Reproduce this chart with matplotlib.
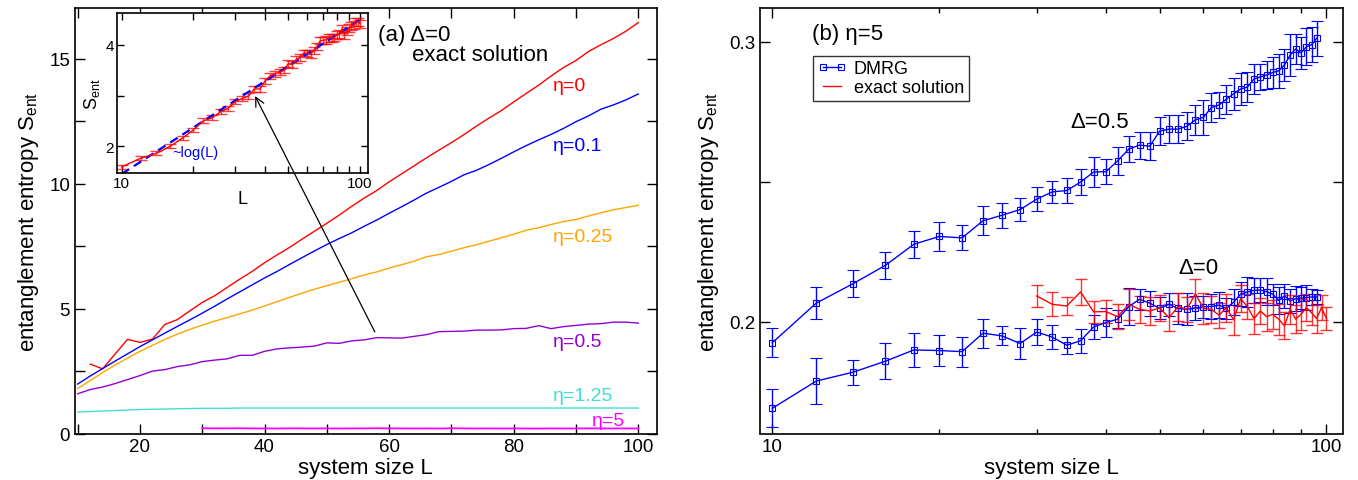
import matplotlib
matplotlib.use("Agg")
import matplotlib.pyplot as plt
from matplotlib.ticker import MultipleLocator, FixedLocator, NullFormatter, LogLocator
from matplotlib.lines import Line2D

plt.rcParams['font.family'] = ['Liberation Sans', 'DejaVu Sans']
plt.rcParams['mathtext.default'] = 'regular'

# ---- panel (a): Delta=0, exact solution, S_ent vs L for several eta
L_all = list(range(10, 101, 2))
L_eta0 = list(range(12, 101, 2))
S_eta0 = [2.78, 2.59, 3.18, 3.77, 3.65, 3.78, 4.37, 4.56, 4.91, 5.25, 5.52, 5.85,
          6.18, 6.49, 6.84, 7.15, 7.45, 7.78, 8.10, 8.42, 8.75, 9.10, 9.43, 9.73,
          10.08, 10.40, 10.72, 11.04, 11.35, 11.65, 11.97, 12.31, 12.63, 12.93,
          13.28, 13.62, 13.95, 14.32, 14.66, 14.94, 15.30, 15.57, 15.82, 16.11, 16.46]
S_eta01 = [1.98, 2.30, 2.60, 2.90, 3.19, 3.48, 3.75, 4.02, 4.29, 4.55, 4.82, 5.10,
           5.39, 5.67, 5.95, 6.23, 6.49, 6.77, 7.04, 7.31, 7.57, 7.81, 8.04, 8.30,
           8.55, 8.82, 9.08, 9.35, 9.63, 9.86, 10.10, 10.36, 10.54, 10.77, 11.02,
           11.28, 11.53, 11.76, 11.98, 12.22, 12.49, 12.72, 12.99, 13.16, 13.36, 13.60]
S_eta025 = [1.80, 2.12, 2.44, 2.74, 3.02, 3.29, 3.53, 3.77, 3.98, 4.17, 4.34, 4.50,
            4.64, 4.79, 4.94, 5.11, 5.28, 5.45, 5.62, 5.78, 5.92, 6.06, 6.20, 6.35,
            6.47, 6.63, 6.76, 6.90, 7.08, 7.17, 7.30, 7.44, 7.56, 7.70, 7.84, 7.98,
            8.14, 8.24, 8.37, 8.49, 8.57, 8.71, 8.84, 8.96, 9.05, 9.14]
S_eta05 = [1.59, 1.76, 1.86, 2.00, 2.16, 2.32, 2.50, 2.56, 2.68, 2.75, 2.88, 2.94,
           2.99, 3.13, 3.13, 3.29, 3.39, 3.43, 3.46, 3.50, 3.63, 3.61, 3.71, 3.75,
           3.84, 3.83, 3.82, 3.89, 3.96, 4.08, 4.09, 4.10, 4.14, 4.14, 4.15, 4.20,
           4.21, 4.32, 4.20, 4.28, 4.33, 4.38, 4.40, 4.46, 4.46, 4.42]
S_eta125 = [0.86, 0.88, 0.90, 0.92, 0.94, 0.96, 0.97, 0.98, 0.99, 1.00, 1.01, 1.01,
            1.01, 1.02, 1.02, 1.02, 1.02, 1.02, 1.02, 1.02, 1.02, 1.02, 1.02, 1.02,
            1.02, 1.02, 1.02, 1.02, 1.02, 1.02, 1.02, 1.02, 1.02, 1.02, 1.02, 1.02,
            1.02, 1.02, 1.02, 1.02, 1.02, 1.02, 1.02, 1.02, 1.02, 1.02]
# inset error bars for eta=0.5
err_eta05 = [0.04, 0.04, 0.04, 0.045, 0.045, 0.045, 0.05, 0.05, 0.05, 0.05, 0.05, 0.055,
             0.055, 0.055, 0.055, 0.06, 0.06, 0.06, 0.06, 0.06, 0.065, 0.065, 0.065, 0.065,
             0.065, 0.07, 0.07, 0.07, 0.07, 0.07, 0.07, 0.075, 0.075, 0.075, 0.075, 0.075,
             0.075, 0.08, 0.08, 0.08, 0.08, 0.08, 0.08, 0.08, 0.08, 0.08]
L_fit = [10, 100]
S_fit = [1.45, 4.50]

# ---- panel (b): eta=5
L_dmrg = list(range(10, 97, 2))
S_d05 = [0.1926, 0.2067, 0.2137, 0.2202, 0.2277, 0.2305, 0.2300, 0.2361, 0.2381, 0.2401,
         0.2438, 0.2464, 0.2469, 0.2499, 0.2535, 0.2536, 0.2575, 0.2617, 0.2631, 0.2627,
         0.2681, 0.2688, 0.2688, 0.2698, 0.2721, 0.2730, 0.2765, 0.2774, 0.2795, 0.2814,
         0.2831, 0.2838, 0.2867, 0.2874, 0.2881, 0.2890, 0.2896, 0.2917, 0.2952, 0.2974,
         0.2960, 0.2982, 0.2989, 0.3012]
E_d05 = [0.0051, 0.0058, 0.0048, 0.0048, 0.0048, 0.0052, 0.0045, 0.0051, 0.0045, 0.0041,
         0.0042, 0.0040, 0.0046, 0.0046, 0.0052, 0.0045, 0.0049, 0.0048, 0.0048, 0.0050,
         0.0049, 0.0051, 0.0050, 0.0050, 0.0054, 0.0062, 0.0052, 0.0048, 0.0052, 0.0057,
         0.0057, 0.0055, 0.0055, 0.0046, 0.0049, 0.0055, 0.0060, 0.0058, 0.0074, 0.0052,
         0.0057, 0.0067, 0.0063, 0.0063]
S_d0 = [0.1692, 0.1789, 0.1821, 0.1860, 0.1900, 0.1898, 0.1894, 0.1960, 0.1950, 0.1923,
        0.1964, 0.1946, 0.1917, 0.1933, 0.1982, 0.1998, 0.2010, 0.2055, 0.2081, 0.2067,
        0.2049, 0.2063, 0.2048, 0.2045, 0.2050, 0.2054, 0.2055, 0.2060, 0.2048, 0.2071,
        0.2099, 0.2107, 0.2113, 0.2114, 0.2108, 0.2099, 0.2077, 0.2093, 0.2075, 0.2083,
        0.2085, 0.2087, 0.2089, 0.2089]
E_d0 = [0.0067, 0.0083, 0.0045, 0.0065, 0.0060, 0.0054, 0.0053, 0.0052, 0.0034, 0.0054,
        0.0046, 0.0042, 0.0031, 0.0043, 0.0043, 0.0051, 0.0033, 0.0065, 0.0038, 0.0045,
        0.0040, 0.0042, 0.0057, 0.0057, 0.0042, 0.0039, 0.0043, 0.0046, 0.0036, 0.0046,
        0.0043, 0.0053, 0.0045, 0.0044, 0.0048, 0.0038, 0.0048, 0.0043, 0.0042, 0.0044,
        0.0040, 0.0046, 0.0030, 0.0025]
L_exact = list(range(30, 101, 2))
S_exact = [0.2093, 0.2063, 0.2057, 0.2107, 0.2036, 0.2037, 0.2019, 0.2063, 0.2045, 0.2039,
           0.2050, 0.2015, 0.2055, 0.2045, 0.2101, 0.2048, 0.2045, 0.2024, 0.2051, 0.2007,
           0.2083, 0.2055, 0.2012, 0.2039, 0.2019, 0.2027, 0.2010, 0.1986, 0.2045, 0.2010,
           0.2027, 0.2051, 0.2033, 0.2012, 0.2051, 0.2012]
E_exact = [0.0039, 0.0043, 0.0033, 0.0045, 0.0040, 0.0042, 0.0045, 0.0055, 0.0048, 0.0050,
           0.0045, 0.0048, 0.0050, 0.0045, 0.0052, 0.0055, 0.0048, 0.0045, 0.0050, 0.0052,
           0.0048, 0.0045, 0.0055, 0.0048, 0.0050, 0.0052, 0.0055, 0.0048, 0.0052, 0.0050,
           0.0055, 0.0048, 0.0045, 0.0050, 0.0045, 0.0040]

RED, BLUE, ORANGE, VIOLET, TURQ, MAGENTA = '#ff0000', '#0000ff', '#ffa500', '#9400d3', '#40e0d0', '#ff00ff'

fig = plt.figure(figsize=(13.58, 4.81), dpi=100)
ax = fig.add_axes([75 / 1358, 46.5 / 481, 581.7 / 1358, 425.2 / 481])
ax2 = fig.add_axes([760 / 1358, 46.5 / 481, 582.7 / 1358, 425.2 / 481])
axin = fig.add_axes([117 / 1358, 307 / 481, 251 / 1358, 160 / 481])

lw = 1.0
ax.plot(L_eta0, S_eta0, color=RED, lw=lw)
ax.plot(L_all, S_eta01, color=BLUE, lw=lw)
ax.plot(L_all, S_eta025, color=ORANGE, lw=lw)
ax.plot(L_all, S_eta05, color=VIOLET, lw=lw)
ax.plot(L_all, S_eta125, color=TURQ, lw=lw)
ax.plot(L_exact, S_exact, color=MAGENTA, lw=lw + 0.3)

ax.set_xlim(9.57, 102.95)
ax.set_ylim(0, 17.03)
ax.xaxis.set_major_locator(FixedLocator([20, 40, 60, 80, 100]))
ax.xaxis.set_minor_locator(MultipleLocator(10))
ax.yaxis.set_major_locator(MultipleLocator(5))
ax.yaxis.set_minor_locator(MultipleLocator(2.5))
ax.tick_params(which='both', direction='in', top=True, right=True, length=7, width=1,
               labelsize=13.5)
ax.set_xlabel('system size L', fontsize=16, labelpad=1)
ax.set_ylabel('entanglement entropy S$_{ent}$', fontsize=16, labelpad=6)

ax.text(58.2, 16.0, '(a) \u0394=0', fontsize=16, va='center')
ax.text(63.7, 15.16, 'exact solution', fontsize=16, va='center')
ax.text(86.3, 13.92, '\u03b7=0', color=RED, fontsize=14, va='center')
ax.text(86.3, 11.52, '\u03b7=0.1', color=BLUE, fontsize=14, va='center')
ax.text(86.3, 7.91, '\u03b7=0.25', color=ORANGE, fontsize=14, va='center')
ax.text(86.3, 3.67, '\u03b7=0.5', color=VIOLET, fontsize=14, va='center')
ax.text(86.3, 1.54, '\u03b7=1.25', color=TURQ, fontsize=14, va='center')
ax.text(92.6, 0.54, '\u03b7=5', color=MAGENTA, fontsize=14, va='center')

# inset: eta=0.5 on log scale
axin.errorbar(L_all, S_eta05, yerr=err_eta05, color=RED, lw=1, elinewidth=1,
              capsize=4.5, capthick=1, ecolor=(1, 0, 0, 0.75))
axin.plot(L_fit, S_fit, color=BLUE, lw=1.6, ls=(0, (4, 2.5)))
axin.set_xscale('log')
axin.set_xlim(9.56, 108)
axin.set_ylim(1.47, 4.63)
axin.xaxis.set_major_locator(FixedLocator([10, 100]))
axin.set_xticklabels(['10', '100'])
axin.xaxis.set_minor_locator(LogLocator(base=10, subs=range(2, 10)))
axin.xaxis.set_minor_formatter(NullFormatter())
axin.yaxis.set_major_locator(FixedLocator([2, 4]))
axin.yaxis.set_minor_locator(FixedLocator([3]))
axin.tick_params(which='both', direction='in', top=True, right=True, length=5, width=1,
                 labelsize=11, pad=2)
axin.set_xlabel('L', fontsize=13, labelpad=0)
axin.set_ylabel('S$_{ent}$', fontsize=13, labelpad=3)
axin.text(16.4, 1.88, '~log(L)', color=BLUE, fontsize=10.5, va='center')
axin.annotate('', xy=(36.3, 2.99), xytext=(57.7, 4.07), textcoords=ax.transData,
              annotation_clip=False,
              arrowprops=dict(arrowstyle='->', color='k', lw=0.9, mutation_scale=16,
                              shrinkA=0, shrinkB=0))

# panel (b)
ekw = dict(color=BLUE, marker='s', mfc='none', ms=4, mew=0.8, lw=1, elinewidth=1,
           capsize=4, capthick=1)
ax2.errorbar(L_dmrg, S_d05, yerr=E_d05, **ekw)
ax2.errorbar(L_dmrg, S_d0, yerr=E_d0, **ekw)
ax2.errorbar(L_exact, S_exact, yerr=E_exact, color=RED, lw=1, elinewidth=1,
             capsize=4, capthick=1, ecolor=(1, 0, 0, 0.8))
ax2.set_xscale('log')
ax2.set_xlim(9.5, 107)
ax2.set_ylim(0.1602, 0.3119)
ax2.xaxis.set_major_locator(FixedLocator([10, 100]))
ax2.set_xticklabels(['10', '100'])
ax2.xaxis.set_minor_locator(LogLocator(base=10, subs=range(2, 10)))
ax2.xaxis.set_minor_formatter(NullFormatter())
ax2.yaxis.set_major_locator(FixedLocator([0.2, 0.3]))
ax2.set_yticklabels(['0.2', '0.3'])
ax2.yaxis.set_minor_locator(FixedLocator([0.25]))
ax2.tick_params(which='major', direction='in', top=True, right=True, length=7, width=1,
                labelsize=13.5)
ax2.tick_params(which='minor', direction='in', top=True, right=True, length=3.5, width=1)
ax2.tick_params(axis='y', which='minor', length=7)
ax2.set_xlabel('system size L', fontsize=16, labelpad=1)
ax2.set_ylabel('entanglement entropy S$_{ent}$', fontsize=16, labelpad=6)

ax2.text(11.78, 0.3030, '(b) \u03b7=5', fontsize=16, va='center')
ax2.text(39.0, 0.2714, '\u0394=0.5', fontsize=16, va='center', ha='center')
ax2.text(58.7, 0.2196, '\u0394=0', fontsize=16, va='center', ha='center')

handles = [Line2D([], [], color=BLUE, marker='s', mfc='none', ms=4, mew=0.8, lw=1),
           Line2D([], [], color=RED, lw=1)]
leg = ax2.legend(handles, ['DMRG', 'exact solution'], loc='upper left',
                 bbox_to_anchor=(0.0915, 0.8885), borderaxespad=0, numpoints=2,
                 fontsize=13, frameon=True, fancybox=False, handlelength=1.6,
                 handletextpad=0.4, borderpad=0.25, labelspacing=0.1)
leg.get_frame().set_edgecolor('black')
leg.get_frame().set_linewidth(1)

for a in (ax, ax2, axin):
    for s in a.spines.values():
        s.set_linewidth(1.2)

fig.savefig('out.png', dpi=100)
